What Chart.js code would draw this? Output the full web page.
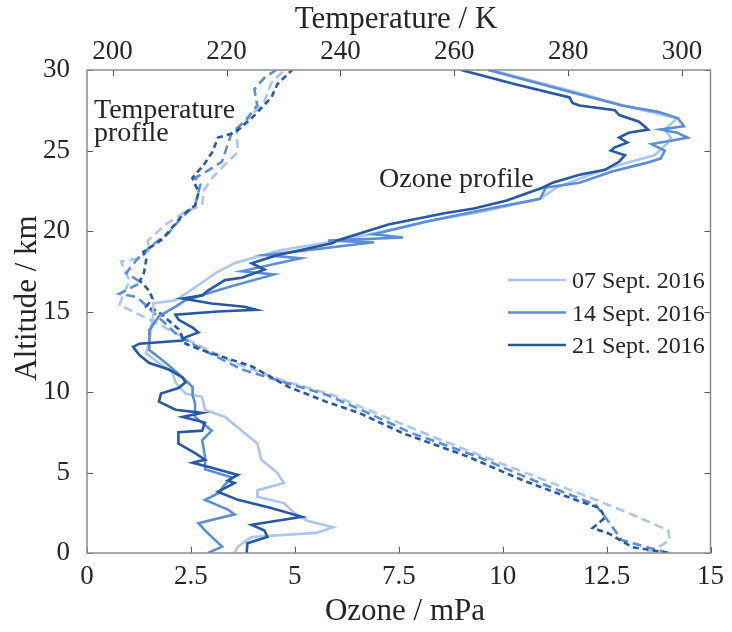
<!DOCTYPE html>
<html>
<head>
<meta charset="utf-8">
<script src="https://cdn.jsdelivr.net/npm/chart.js@4.4.1/dist/chart.umd.min.js"></script>
<style>
  html, body { margin: 0; padding: 0; background: #ffffff; }
  #wrap { width: 732px; height: 632px; }
</style>
</head>
<body>
<div id="wrap"><canvas id="chart" width="732" height="632"></canvas></div>
<script>
// ---------------------------------------------------------------------
// Data (altitude in km, ozone in mPa, temperature in K)
// ---------------------------------------------------------------------

const dates = ['07 Sept. 2016', '14 Sept. 2016', '21 Sept. 2016'];

// Ozone partial pressure profiles
const altO07 = [0, 0.4, 1.0, 1.25, 1.6, 2.0, 2.5, 3.1, 3.5, 3.9, 4.35, 5.0, 5.8, 6.8, 7.45, 8.1, 8.45, 8.9, 9.7, 9.9,
  10.6, 11.2, 11.8, 12.4, 13.2, 14.0, 14.7, 15.5, 15.7, 16.1, 16.8, 17.4, 18.0, 18.8, 19.3, 19.9, 20.6, 21.2, 22.0, 22.7,
  23.5, 24.1, 24.7, 25.5, 25.8, 26.3, 27.0, 27.8, 28.6, 29.9, 30];
const ozone07 = [3.55, 3.63, 3.96, 5.52, 5.92, 5.3, 4.98, 4.74, 4.1, 4.1, 4.74, 4.57, 4.19, 4.1, 3.79, 3.48, 3.32, 2.84, 2.77, 2.37,
  2.13, 2.06, 1.73, 1.42, 1.5, 1.55, 1.59, 1.59, 2.13, 2.37, 2.77, 3.1, 3.55, 4.65, 5.83, 7.0, 8.2, 9.5, 10.9, 11.3,
  12.1, 12.8, 13.65, 13.98, 14.05, 13.9, 14.2, 12.9, 11.8, 9.86, 9.75];

const altO14 = [0, 0.4, 1.0, 1.4, 1.85, 2.4, 2.7, 3.3, 3.7, 4.2, 4.7, 5.2, 6.0, 7.0, 7.6, 8.45, 9.3, 9.8, 10.3, 10.9,
  11.8, 12.6, 13.2, 13.85, 14.7, 15.3, 15.7, 16.5, 17.3, 17.5, 18.3, 18.5, 19.3, 19.4, 19.6, 19.8, 20.6, 21.2, 21.6, 22.0,
  22.7, 23.0, 23.7, 24.2, 24.5, 25.0, 25.4, 25.6, 25.8, 26.1, 26.3, 26.5, 27.0, 27.4, 27.8, 28.6, 29.9, 30];
const ozone14 = [2.91, 3.25, 3.0, 2.84, 2.68, 3.55, 3.39, 2.84, 3.15, 3.3, 3.48, 2.84, 2.84, 2.77, 3.0, 2.6, 2.6, 2.54, 2.54, 2.3,
  1.9, 1.5, 1.5, 1.5, 1.73, 2.13, 2.37, 3.39, 4.5, 3.72, 5.14, 4.3, 6.9, 5.8, 7.6, 6.9, 8.2, 9.31, 10.1, 10.9,
  11.04, 11.85, 12.63, 13.41, 13.8, 13.9, 13.58, 14.05, 14.45, 14.2, 13.8, 14.36, 14.22, 13.74, 12.87, 11.68, 9.79, 9.65];

const altO21 = [0, 0.6, 1.0, 1.4, 1.75, 2.25, 2.8, 3.3, 3.8, 4.35, 4.5, 4.85, 5.3, 5.6, 5.8, 6.2, 6.8, 7.5, 7.6, 8.1,
  8.45, 8.7, 8.9, 9.4, 9.9, 10.25, 10.6, 10.9, 11.4, 11.8, 12.3, 12.8, 13.0, 13.2, 13.4, 13.7, 14.0, 14.5, 14.8, 15.0,
  15.1, 15.3, 15.5, 15.8, 16.0, 16.3, 16.95, 17.1, 17.6, 18.0, 18.5, 19.25, 19.4, 20.4, 21.1, 21.4, 21.9, 22.7, 23.0, 23.5,
  23.8, 24.3, 24.7, 25.0, 25.2, 25.5, 25.8, 26.1, 26.3, 26.5, 26.8, 27.2, 27.5, 27.8, 27.95, 28.3, 29.1, 30];
const ozone21 = [3.84, 3.86, 4.34, 4.27, 3.96, 5.17, 4.43, 3.63, 3.15, 3.55, 3.39, 3.63, 3.0, 2.54, 2.84, 2.6, 2.2, 2.2, 2.77, 2.84,
  2.3, 2.77, 2.13, 1.73, 1.78, 2.2, 2.37, 2.3, 1.97, 1.5, 1.26, 1.11, 1.26, 2.3, 2.37, 2.68, 2.54, 2.2, 2.13, 3.15,
  4.07, 3.79, 3.0, 2.3, 2.77, 2.91, 3.32, 3.72, 4.27, 3.96, 4.57, 5.92, 6.0, 7.25, 8.6, 9.31, 10.1, 10.97, 11.2, 11.85,
  12.46, 12.8, 12.94, 12.6, 12.7, 13.0, 12.8, 13.03, 13.5, 13.41, 13.27, 12.8, 12.7, 11.85, 11.68, 11.61, 10.33, 9.0];

// Temperature profiles
const altT07 = [0, 0.5, 0.8, 1.4, 2.5, 3.7, 5.5, 7.1, 8.5, 9.8, 10.7, 11.8, 13.0, 14.3, 15.1, 15.4, 16.1, 16.9, 17.6, 18.1,
  18.3, 18.8, 19.4, 20.4, 21.2, 21.6, 22.5, 23.3, 24.3, 24.9, 26.1, 27.2, 28.0, 29.2, 30];
const temp07 = [293.8, 296.5, 297.8, 297.6, 290.5, 282, 268.7, 257.1, 247.5, 238.8, 230, 221.5, 214.5, 207.6, 203, 201.2, 201.9, 203, 202, 201.5,
  204.7, 206.4, 206.2, 209.3, 212.8, 215.7, 216, 217.5, 220.2, 222, 221.8, 224.4, 226.6, 227.9, 230.1];

const altT14 = [0, 0.8, 1.9, 3.0, 4.5, 6.0, 7.45, 8.7, 9.8, 11.4, 12.5, 13.5, 14.5, 15.0, 15.5, 15.9, 16.1, 16.8, 17.4, 18.2,
  19.0, 19.9, 20.8, 21.6, 22.9, 23.3, 23.7, 24.3, 26.1, 26.8, 27.8, 28.8, 29.5, 30];
const temp14 = [297.6, 289.4, 287.2, 284.8, 274, 264, 252.5, 244.8, 237.8, 222.7, 216.5, 211.5, 208.5, 207, 205.5, 204.2, 201.2, 205, 202.4, 204.2,
  206.5, 209.9, 212, 214.5, 215.4, 214.5, 216.5, 219.2, 220.9, 223.2, 225.4, 224.9, 226.6, 228.7];

const altT21 = [0, 0.37, 1.2, 1.55, 2.2, 2.8, 3.3, 4.5, 6.0, 7.45, 8.7, 9.4, 10.3, 11.6, 12.6, 13.0, 13.9, 14.7, 15.0, 15.3,
  15.8, 16.3, 16.9, 17.4, 18.2, 18.7, 19.5, 21.0, 21.6, 22.4, 23.3, 24.1, 24.9, 25.8, 26.1, 27.0, 28.3, 29.1, 30];
const temp21 = [297.6, 291.2, 287.2, 284.3, 286.5, 285.5, 281.3, 272.1, 262.3, 250.9, 243.3, 237.5, 231, 224.4, 215.7, 212.8, 211.6, 209, 208, 205.9,
  207, 206.4, 204.8, 205.5, 205.9, 205.4, 208.8, 212.3, 214.5, 215.1, 214, 216, 217.5, 218.5, 221.4, 224.4, 227.9, 228.9, 231.5];

// Tick labels
const ozoneTicks = [0, 2.5, 5, 7.5, 10, 12.5, 15];
const tempTicks = [200, 220, 240, 260, 280, 300];
const altTicks = [0, 5, 10, 15, 20, 25, 30];

// ---------------------------------------------------------------------
// Styling
// ---------------------------------------------------------------------

const FONT = '"Liberation Serif", "Times New Roman", serif';
const TEXT = '#262626';
const colors = ['#a9c6ec', '#5b8ed6', '#2658a6'];
const tempDash = [[9, 5], [9, 5], [6, 4]];

function profile(alts, vals) {
  return alts.map((a, i) => ({ x: vals[i], y: a }));
}

const ozoneSets = [[altO07, ozone07], [altO14, ozone14], [altO21, ozone21]];
const tempSets = [[altT07, temp07], [altT14, temp14], [altT21, temp21]];

const datasets = [];
ozoneSets.forEach(([a, v], i) => {
  datasets.push({
    label: dates[i] + ' ozone',
    data: profile(a, v),
    xAxisID: 'x',
    borderColor: colors[i],
    borderWidth: 2.6,
    order: 2 - i
  });
});
tempSets.forEach(([a, v], i) => {
  datasets.push({
    label: dates[i] + ' temperature',
    data: profile(a, v),
    xAxisID: 'xT',
    borderColor: colors[i],
    borderWidth: 2.6,
    borderDash: tempDash[i],
    order: 5 - i
  });
});
datasets.forEach(d => {
  d.showLine = true;
  d.pointRadius = 0;
  d.tension = 0;
  d.fill = false;
});

// Box around the plot with MATLAB style inward ticks
const frame = {
  id: 'frame',
  afterDatasetsDraw(chart) {
    const { ctx, chartArea: a, scales } = chart;
    const len = 6;
    ctx.save();
    ctx.strokeStyle = '#555555';
    ctx.lineWidth = 1;
    ozoneTicks.forEach(v => {
      const px = Math.round(scales.x.getPixelForValue(v)) + 0.5;
      ctx.beginPath(); ctx.moveTo(px, a.bottom); ctx.lineTo(px, a.bottom - len); ctx.stroke();
    });
    tempTicks.forEach(v => {
      const px = Math.round(scales.xT.getPixelForValue(v)) + 0.5;
      ctx.beginPath(); ctx.moveTo(px, a.top); ctx.lineTo(px, a.top + len); ctx.stroke();
    });
    altTicks.forEach(v => {
      const py = Math.round(scales.y.getPixelForValue(v)) + 0.5;
      ctx.beginPath(); ctx.moveTo(a.left, py); ctx.lineTo(a.left + len, py); ctx.stroke();
      ctx.beginPath(); ctx.moveTo(a.right, py); ctx.lineTo(a.right - len, py); ctx.stroke();
    });
    ctx.strokeStyle = '#8c8c8c';
    ctx.lineWidth = 1.5;
    ctx.strokeRect(a.left, a.top, a.right - a.left, a.bottom - a.top);
    ctx.restore();
  }
};

// Axis titles, in-plot labels and the legend
const labels = {
  id: 'labels',
  afterDraw(chart) {
    const { ctx } = chart;
    ctx.save();
    ctx.fillStyle = TEXT;
    ctx.textBaseline = 'alphabetic';

    ctx.font = '31px ' + FONT;
    ctx.textAlign = 'center';
    ctx.fillText('Temperature / K', 396, 28);
    ctx.fillText('Ozone / mPa', 405, 620);
    ctx.save();
    ctx.translate(36, 298);
    ctx.rotate(-Math.PI / 2);
    ctx.fillText('Altitude / km', 0, 0);
    ctx.restore();

    ctx.font = '28px ' + FONT;
    ctx.textAlign = 'left';
    ctx.fillText('Temperature', 94, 118);
    ctx.fillText('profile', 94, 141);
    ctx.fillText('Ozone profile', 379, 187);

    ctx.font = '24px ' + FONT;
    dates.forEach((d, i) => {
      const y = 280 + i * 32.5;
      ctx.strokeStyle = colors[i];
      ctx.lineWidth = 2.6;
      ctx.beginPath(); ctx.moveTo(508, y); ctx.lineTo(566, y); ctx.stroke();
      ctx.fillText(d, 572, y + 8);
    });
    ctx.restore();
  }
};

const tickFont = { family: FONT, size: 27 };

new Chart(document.getElementById('chart'), {
  type: 'scatter',
  data: { datasets },
  options: {
    responsive: false,
    animation: false,
    layout: { padding: { left: 0, right: 12, top: 0, bottom: 0 } },
    plugins: {
      legend: { display: false },
      tooltip: { enabled: false }
    },
    scales: {
      x: {
        type: 'linear',
        position: 'bottom',
        min: 0,
        max: 15,
        afterBuildTicks: s => { s.ticks = ozoneTicks.map(v => ({ value: v })); },
        afterFit: s => { s.height = 79; },
        ticks: { callback: v => String(v), font: tickFont, color: TEXT, padding: 8, maxRotation: 0, autoSkip: false },
        grid: { display: false, drawTicks: false },
        border: { display: false }
      },
      xT: {
        type: 'linear',
        position: 'top',
        min: 195.5,
        max: 305,
        afterBuildTicks: s => { s.ticks = tempTicks.map(v => ({ value: v })); },
        afterFit: s => { s.height = 70; },
        ticks: { callback: v => String(v), font: tickFont, color: TEXT, padding: 2, maxRotation: 0, autoSkip: false },
        grid: { display: false, drawTicks: false },
        border: { display: false }
      },
      y: {
        type: 'linear',
        position: 'left',
        min: 0,
        max: 30,
        afterBuildTicks: s => { s.ticks = altTicks.map(v => ({ value: v })); },
        afterFit: s => { s.width = 87; },
        ticks: { callback: v => String(v), font: tickFont, color: TEXT, padding: 17 },
        grid: { display: false, drawTicks: false },
        border: { display: false }
      }
    }
  },
  plugins: [frame, labels]
});
</script>
</body>
</html>
